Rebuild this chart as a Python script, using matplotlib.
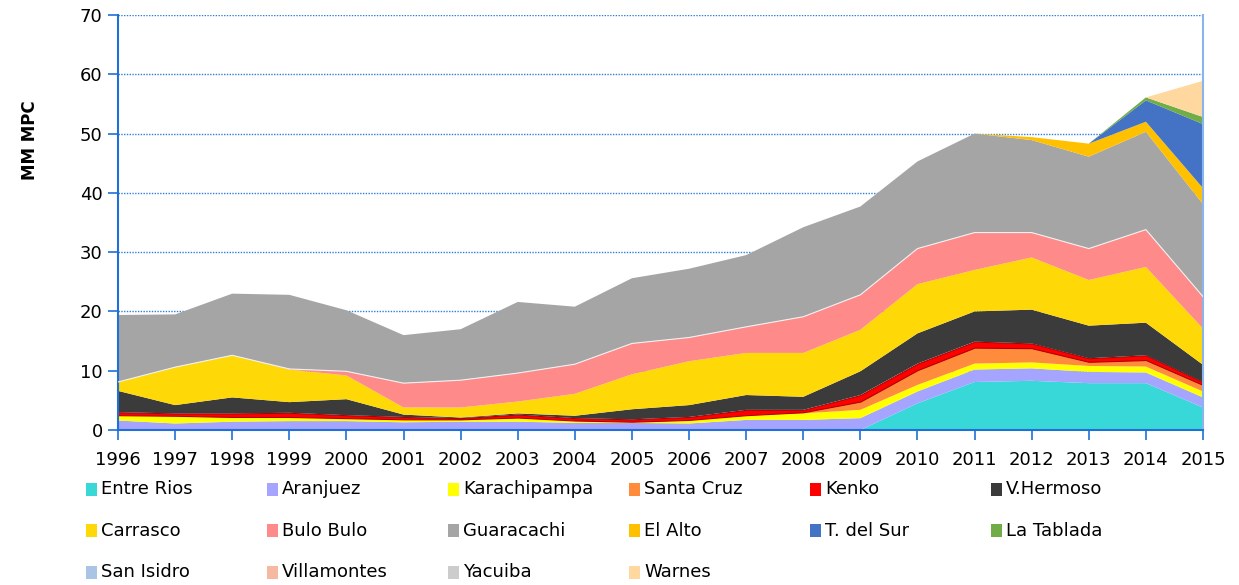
import matplotlib
matplotlib.use("Agg")
import matplotlib.pyplot as plt
from matplotlib.patches import Rectangle
import numpy as np

years = list(range(1996, 2016))

# Cumulative upper edge of each plant's band (MM MPC), bottom to top
names = ["Entre Rios", "Aranjuez", "Karachipampa", "Santa Cruz", "Kenko",
         "V.Hermoso", "Carrasco", "Bulo Bulo", "Guaracachi", "El Alto",
         "T. del Sur", "La Tablada", "San Isidro", "Villamontes", "Yacuiba",
         "Warnes"]

top_entre_rios = [0, 0, 0, 0, 0, 0, 0, 0, 0, 0, 0, 0, 0, 0, 4.5, 8.1, 8.3, 7.9, 7.9, 3.8]
top_aranjuez = [1.6, 1.1, 1.4, 1.5, 1.5, 1.3, 1.4, 1.4, 1.2, 1.2, 1.1, 1.7, 1.7, 2.0, 6.5, 10.2, 10.4, 9.8, 9.7, 5.5]
top_karachipampa = [2.5, 2.4, 2.2, 2.2, 2.0, 1.8, 1.8, 2.1, 1.6, 1.4, 1.7, 2.5, 2.8, 3.4, 7.6, 11.2, 11.4, 10.8, 10.7, 6.5]
top_santa_cruz = [2.5, 2.4, 2.2, 2.2, 2.0, 1.8, 1.8, 2.1, 1.6, 1.4, 1.7, 2.5, 3.0, 4.8, 10.1, 13.9, 13.8, 11.5, 11.8, 7.6]
top_kenko = [3.0, 2.8, 2.8, 2.9, 2.5, 2.2, 2.0, 2.6, 2.0, 1.8, 2.2, 3.4, 3.4, 5.9, 11.2, 14.9, 14.6, 12.1, 12.6, 8.1]
top_v_hermoso = [6.6, 4.2, 5.5, 4.7, 5.2, 2.6, 2.1, 2.8, 2.4, 3.5, 4.2, 5.9, 5.6, 9.9, 16.3, 20.0, 20.3, 17.6, 18.1, 11.0]
top_carrasco = [8.1, 10.6, 12.6, 10.2, 9.2, 3.8, 3.8, 4.8, 6.1, 9.4, 11.6, 13.0, 13.0, 16.9, 24.6, 27.0, 29.1, 25.3, 27.5, 17.1]
top_bulo_bulo = [8.1, 10.6, 12.6, 10.3, 9.9, 7.9, 8.4, 9.6, 11.1, 14.6, 15.6, 17.4, 19.1, 22.8, 30.6, 33.3, 33.3, 30.6, 33.8, 22.5]
top_guaracachi = [19.4, 19.5, 23.0, 22.8, 20.2, 16.0, 17.0, 21.6, 20.8, 25.6, 27.2, 29.5, 34.2, 37.7, 45.3, 50.0, 48.9, 46.1, 50.3, 38.1]
top_el_alto = [19.4, 19.5, 23.0, 22.8, 20.2, 16.0, 17.0, 21.6, 20.8, 25.6, 27.2, 29.5, 34.2, 37.7, 45.3, 50.0, 49.4, 48.3, 52.0, 40.8]
top_t_del_sur = [19.4, 19.5, 23.0, 22.8, 20.2, 16.0, 17.0, 21.6, 20.8, 25.6, 27.2, 29.5, 34.2, 37.7, 45.3, 50.0, 49.4, 48.3, 55.6, 51.6]
top_la_tablada = [19.4, 19.5, 23.0, 22.8, 20.2, 16.0, 17.0, 21.6, 20.8, 25.6, 27.2, 29.5, 34.2, 37.7, 45.3, 50.0, 49.4, 48.3, 56.1, 52.8]
top_san_isidro = top_la_tablada
top_villamontes = top_la_tablada
top_yacuiba = top_la_tablada
top_warnes = [19.4, 19.5, 23.0, 22.8, 20.2, 16.0, 17.0, 21.6, 20.8, 25.6, 27.2, 29.5, 34.2, 37.7, 45.3, 50.0, 49.4, 48.3, 56.1, 58.9]

tops = [top_entre_rios, top_aranjuez, top_karachipampa, top_santa_cruz,
        top_kenko, top_v_hermoso, top_carrasco, top_bulo_bulo,
        top_guaracachi, top_el_alto, top_t_del_sur, top_la_tablada,
        top_san_isidro, top_villamontes, top_yacuiba, top_warnes]

colors = ["#38D8D8", "#A5A5FF", "#FFFF00", "#FF8C3C", "#FF0000", "#3B3B3B",
          "#FFD808", "#FF8A8A", "#A5A5A5", "#FFC000", "#4472C4", "#70AD47",
          "#A9C4E4", "#F4B9A0", "#CCCCCC", "#FFD8A0"]

W, H = 1239, 585
fig = plt.figure(figsize=(W / 100, H / 100), dpi=100)
ax = fig.add_axes([118 / W, 1 - 430 / H, (1203 - 118) / W, (430 - 15) / H])

axis_blue = "#1F6FD6"
for y in range(10, 80, 10):
    ax.axhline(y, color="#2F7ED8", lw=1.0, ls=(0, (1, 1)), zorder=0)

bottom = np.zeros(len(years))
for name, top, c in zip(names, tops, colors):
    top = np.array(top, dtype=float)
    if name == "Kenko":
        ax.fill_between(years, bottom, top, facecolor=c, edgecolor="#B00000",
                        lw=0.8, zorder=2)
    else:
        ax.fill_between(years, bottom, top, facecolor=c, edgecolor="none",
                        lw=0, zorder=2)
    bottom = top

# thin light border along the Bulo Bulo / Guaracachi boundary
ax.plot(years, top_bulo_bulo, color="#F2F2F2", lw=0.8, zorder=3)

ax.set_xlim(1996, 2015)
ax.set_ylim(0, 70)
ax.set_xticks(years)
ax.set_xticklabels([str(y) for y in years], fontsize=13)
ax.set_yticks(range(0, 80, 10))
ax.set_yticklabels([str(v) for v in range(0, 80, 10)], fontsize=13)
ax.tick_params(axis="both", color=axis_blue, length=7, width=1.2, pad=4)
ax.tick_params(axis="x", pad=8)
for side in ["left", "bottom"]:
    ax.spines[side].set_color(axis_blue)
    ax.spines[side].set_linewidth(1.5)
ax.spines["top"].set_visible(False)
ax.spines["right"].set_color("#8AB4EE")
ax.spines["right"].set_linewidth(1.5)

fig.text(30 / W, 1 - 140 / H, "MM MPC", rotation=90, fontsize=12,
         fontweight="bold", ha="center", va="center")

# legend laid out in a 6-column grid
for i, (name, c) in enumerate(zip(names, colors)):
    col, row = i % 6, i // 6
    x0 = 86 + col * 181
    yc = 489 + row * 41.5
    fig.patches.append(Rectangle((x0 / W, 1 - (yc + 6.5) / H), 11 / W, 13 / H,
                                 transform=fig.transFigure, facecolor=c,
                                 edgecolor="none"))
    fig.text((x0 + 15) / W, 1 - yc / H, name, fontsize=13, ha="left",
             va="center")

fig.savefig("out.png", dpi=100)
